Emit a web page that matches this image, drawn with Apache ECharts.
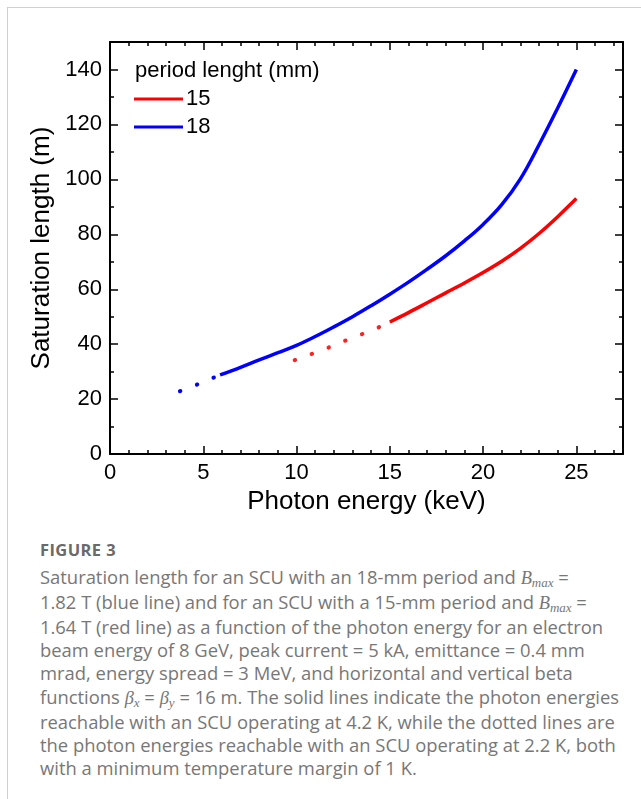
<!DOCTYPE html>
<html>
<head>
<meta charset="utf-8">
<script src="https://cdn.jsdelivr.net/npm/echarts@6/dist/echarts.min.js"></script>
<style>
  html, body { margin: 0; padding: 0; background: #fff; }
  #frame { position: absolute; left: 7px; top: 7px; width: 634px; height: 792px;
    border-left: 1px solid #d0d0d0; border-top: 1px solid #d0d0d0; }
  #chart { position: absolute; left: 0; top: 0; width: 641px; height: 520px; }
  #caption { position: absolute; left: 40px; top: 538px; font-family: "Open Sans", Lato, sans-serif;
    color: #777; font-size: 18.4px; line-height: 23.1px; white-space: nowrap; }
  #caption .fig { font-weight: bold; color: #6a6a6a; font-size: 16.5px; letter-spacing: 0.4px; margin-bottom: 4px; }
  #caption i { font-family: "Liberation Serif", serif; }
  #caption sub { font-size: 13px; vertical-align: -3px; line-height: 0; }
</style>
</head>
<body>
<div id="frame"></div>
<div id="chart"></div>
<div id="caption">
  <div class="fig">FIGURE 3</div>
  Saturation length for an SCU with an 18-mm period and <i>B</i><sub><i>max</i></sub> =<br>
  1.82 T (blue line) and for an SCU with a 15-mm period and <i>B</i><sub><i>max</i></sub> =<br>
  1.64 T (red line) as a function of the photon energy for an electron<br>
  beam energy of 8 GeV, peak current = 5 kA, emittance = 0.4 mm<br>
  mrad, energy spread = 3 MeV, and horizontal and vertical beta<br>
  functions <i>β<sub>x</sub></i> = <i>β<sub>y</sub></i> = 16 m. The solid lines indicate the photon energies<br>
  reachable with an SCU operating at 4.2 K, while the dotted lines are<br>
  the photon energies reachable with an SCU operating at 2.2 K, both<br>
  with a minimum temperature margin of 1 K.
</div>
<script>
// period 18 mm (blue), 4.2 K solid part
var blueSolidX = [5.9, 7, 8, 9, 10, 11, 12, 13, 14, 15, 16, 17, 18, 19, 20, 21, 22, 23, 24, 25]
var blueSolidY = [28.8, 31.6, 34.3, 36.9, 39.6, 42.8, 46.3, 50.0, 54.0, 58.2, 62.6, 67.3, 72.2, 77.6, 83.6, 90.8, 100.2, 112.6, 126.0, 140.0]
// period 18 mm, 2.2 K dotted part
var blueDotX = [3.75, 4.7, 5.65, 5.9]
var blueDotY = [22.9, 25.4, 28.1, 28.8]
// period 15 mm (red), 4.2 K solid part
var redSolidX = [15, 16, 17, 18, 19, 20, 21, 22, 23, 24, 25]
var redSolidY = [48.1, 51.5, 55.1, 58.7, 62.3, 66.1, 70.2, 74.9, 80.3, 86.4, 93.0]
// period 15 mm, 2.2 K dotted part
var redDotX = [9.9, 10.83, 11.76, 12.65, 13.56, 14.49, 15.0]
var redDotY = [34.2, 36.5, 38.9, 41.4, 43.8, 46.4, 48.1]

var xTicks = [0, 5, 10, 15, 20, 25]
var yTicks = [0, 20, 40, 60, 80, 100, 120, 140]

function pairs(xs, ys) {
  return xs.map(function (x, i) { return [x, ys[i]] })
}

var font = 'Liberation Sans, Arial, sans-serif'
var axisLine = { show: true, onZero: false, lineStyle: { color: '#000', width: 2 } }

function majorAxis(pos, max, step, labels, extra) {
  var a = {
    type: 'value', position: pos, min: 0, max: max, interval: step,
    axisLine: axisLine,
    axisTick: { show: true, inside: true, length: 8, lineStyle: { color: '#000', width: 1.5 } },
    axisLabel: { show: false },
    splitLine: { show: false }
  }
  if (labels) {
    a.axisLabel = {
      show: true, color: '#000', fontFamily: font, fontSize: 22, margin: 8,
      formatter: function (v) { return labels.indexOf(v) >= 0 ? String(v) : '' }
    }
  }
  return Object.assign(a, extra || {})
}

function minorAxis(pos, max, step) {
  return {
    type: 'value', position: pos, min: 0, max: max, interval: step,
    axisLine: { show: false, onZero: false },
    axisTick: { show: true, inside: true, length: 4, lineStyle: { color: '#000', width: 1.5 } },
    axisLabel: { show: false },
    splitLine: { show: false }
  }
}

var chart = echarts.init(document.getElementById('chart'))
chart.setOption({
  animation: false,
  grid: { left: 110, right: 18, top: 42, bottom: 64 },
  title: {
    text: 'period lenght (mm)', left: 135, top: 60, padding: 0,
    textStyle: { fontFamily: font, fontSize: 22, fontWeight: 'normal', color: '#000' }
  },
  legend: {
    data: ['15', '18'], orient: 'vertical', left: 134, top: 88, padding: 0,
    icon: 'rect', itemWidth: 49, itemHeight: 3, itemGap: 6,
    textStyle: { fontFamily: font, fontSize: 22, color: '#000', lineHeight: 22, padding: [0, 0, 0, -2] }
  },
  xAxis: [
    majorAxis('bottom', 27.5, 5, xTicks, {
      name: 'Photon energy (keV)', nameLocation: 'middle', nameGap: 30,
      nameTextStyle: { fontFamily: font, fontSize: 26, color: '#000' }
    }),
    minorAxis('bottom', 27.5, 1),
    majorAxis('top', 27.5, 5, null),
    minorAxis('top', 27.5, 1)
  ],
  yAxis: [
    majorAxis('left', 150, 20, yTicks, {
      name: 'Saturation length (m)', nameLocation: 'middle', nameGap: 49,
      nameTextStyle: { fontFamily: font, fontSize: 26, color: '#000' }
    }),
    minorAxis('left', 150, 10),
    majorAxis('right', 150, 20, null),
    minorAxis('right', 150, 10)
  ],
  series: [
    {
      name: '15', type: 'line', data: pairs(redSolidX, redSolidY), smooth: 0.3,
      showSymbol: false, color: '#ff0000', lineStyle: { width: 3.5, color: '#ff0000' }
    },
    {
      name: '18', type: 'line', data: pairs(blueSolidX, blueSolidY), smooth: 0.4,
      showSymbol: false, color: '#0000ff', lineStyle: { width: 3.5, color: '#0000ff' }
    },
    {
      name: '15 (2.2 K)', type: 'line', data: pairs(redDotX, redDotY), smooth: 0.3,
      showSymbol: false, lineStyle: { width: 4, color: '#ff2020', type: [0.5, 17.5], cap: 'round' }
    },
    {
      name: '18 (2.2 K)', type: 'line', data: pairs(blueDotX, blueDotY), smooth: 0.3,
      showSymbol: false, lineStyle: { width: 4, color: '#0000ff', type: [0.5, 17.5], cap: 'round' }
    }
  ]
})
</script>
</body>
</html>
